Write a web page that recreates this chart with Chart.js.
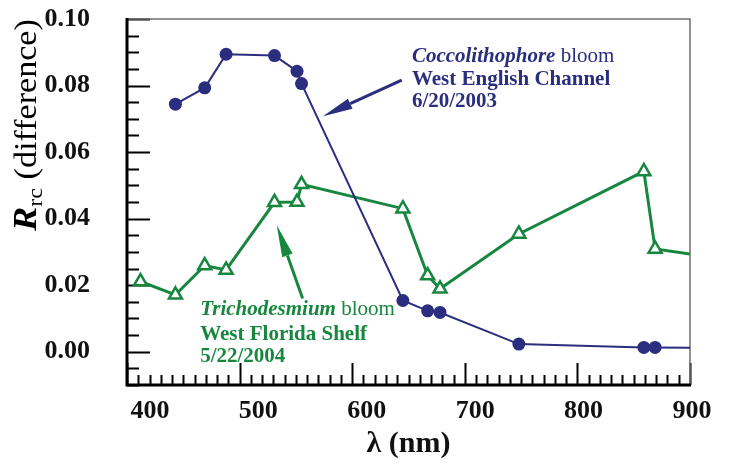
<!DOCTYPE html>
<html>
<head>
<meta charset="utf-8">
<script src="https://cdn.jsdelivr.net/npm/chart.js@4.4.1/dist/chart.umd.min.js"></script>
<style>
  html, body { margin: 0; padding: 0; background: #fff; }
  #wrap { width: 736px; height: 466px; }
</style>
</head>
<body>
<div id="wrap"><canvas id="chart" width="736" height="466"></canvas></div>
<script>
// wavelengths (nm); the last entry is where the lines leave the frame
const lambda = [412, 443, 469, 488, 531, 551, 555, 645, 667, 678, 748, 859, 869, 900];
const coccolith = [null, 0.0744, 0.0793, 0.0894, 0.0890, 0.0843, 0.0806, 0.0154, 0.0123, 0.0118, 0.0023, 0.0013, 0.0013, 0.0012];
const tricho = [0.0211, 0.0171, 0.0259, 0.0246, 0.0449, 0.0450, 0.0503, 0.0430, 0.0229, 0.0189, 0.0354, 0.0542, 0.0309, 0.0294];
const xTicks = [400, 500, 600, 700, 800, 900];
const yTicks = [0.00, 0.02, 0.04, 0.06, 0.08, 0.10];

const BLUE = '#2b2e7e';
const GREEN = '#17873f';
const SERIF = '"Liberation Serif", "Times New Roman", serif';

function pts(ys) {
    return lambda.map((x, i) => ({ x: x, y: ys[i] }));
}
const lastHidden = r => ctx => ctx.dataIndex === lambda.length - 1 ? 0 : r;

function drawArrow(ctx, x0, y0, x1, y1, color, lw, headLen, headHalf) {
    const a = Math.atan2(y1 - y0, x1 - x0);
    const bx = x1 - Math.cos(a) * headLen, by = y1 - Math.sin(a) * headLen;
    ctx.strokeStyle = color;
    ctx.fillStyle = color;
    ctx.lineWidth = lw;
    ctx.beginPath();
    ctx.moveTo(x0, y0);
    ctx.lineTo(bx, by);
    ctx.stroke();
    ctx.beginPath();
    ctx.moveTo(x1, y1);
    ctx.lineTo(bx + Math.sin(a) * headHalf, by - Math.cos(a) * headHalf);
    ctx.lineTo(bx - Math.sin(a) * headHalf, by + Math.cos(a) * headHalf);
    ctx.closePath();
    ctx.fill();
}

function drawRuns(ctx, x, y, runs) {
    runs.forEach(r => {
        ctx.font = r.font;
        ctx.fillText(r.text, x, y + (r.dy || 0));
        x += ctx.measureText(r.text).width;
    });
}

// inward ticks, frame, y title and the two labelled arrows
const framePlugin = {
    id: 'framePlugin',
    beforeDatasetsDraw(chart) {
        const { ctx, chartArea: a, scales: { x, y } } = chart;
        ctx.save();
        ctx.strokeStyle = '#000';
        ctx.lineWidth = 2;
        for (let v = 400; v <= 900; v += 10) {
            const px = Math.round(x.getPixelForValue(v)) + 0.5;
            const len = v % 100 === 0 ? 22 : 10;
            ctx.beginPath();
            ctx.moveTo(px, a.bottom);
            ctx.lineTo(px, a.bottom - len);
            ctx.stroke();
        }
        for (let k = -2; k <= 20; k++) {
            const py = Math.round(y.getPixelForValue(k * 0.005)) + 0.5;
            const len = k % 4 === 0 ? 23 : 12;
            ctx.beginPath();
            ctx.moveTo(a.left, py);
            ctx.lineTo(a.left + len, py);
            ctx.stroke();
        }
        ctx.strokeStyle = '#6e6e6e';
        ctx.lineWidth = 1.5;
        ctx.beginPath();
        ctx.moveTo(a.left, a.top);
        ctx.lineTo(a.right, a.top);
        ctx.lineTo(a.right, a.bottom);
        ctx.stroke();
        ctx.strokeStyle = '#000';
        ctx.lineWidth = 3;
        ctx.beginPath();
        ctx.moveTo(a.left, a.top - 1);
        ctx.lineTo(a.left, a.bottom);
        ctx.lineTo(a.right + 1, a.bottom);
        ctx.stroke();
        ctx.restore();
    },
    afterDraw(chart) {
        const { ctx, scales: { x, y } } = chart;
        ctx.save();
        ctx.translate(36, 231);
        ctx.rotate(-Math.PI / 2);
        ctx.scale(1.1, 1);
        ctx.fillStyle = '#000';
        ctx.textBaseline = 'alphabetic';
        drawRuns(ctx, 0, 0, [
            { text: 'R', font: 'italic bold 33px ' + SERIF },
            { text: 'rc', font: '22px ' + SERIF, dy: 6 },
            { text: ' (difference)', font: '31px ' + SERIF }
        ]);
        ctx.restore();

        ctx.save();
        drawArrow(ctx, x.getPixelForValue(644), y.getPixelForValue(0.0816),
            x.getPixelForValue(574), y.getPixelForValue(0.0708), BLUE, 3, 30, 5.5);
        drawArrow(ctx, x.getPixelForValue(556), y.getPixelForValue(0.0160),
            x.getPixelForValue(533), y.getPixelForValue(0.0380), GREEN, 3, 32, 5.5);

        ctx.textBaseline = 'alphabetic';
        ctx.fillStyle = BLUE;
        let tx = x.getPixelForValue(653);
        drawRuns(ctx, tx, 62, [
            { text: 'Coccolithophore', font: 'italic bold 21px ' + SERIF },
            { text: ' bloom', font: '21px ' + SERIF }
        ]);
        drawRuns(ctx, tx, 85, [{ text: 'West English Channel', font: 'bold 21px ' + SERIF }]);
        drawRuns(ctx, tx, 107, [{ text: '6/20/2003', font: 'bold 21px ' + SERIF }]);

        ctx.fillStyle = GREEN;
        tx = x.getPixelForValue(465);
        drawRuns(ctx, tx, 315, [
            { text: 'Trichodesmium', font: 'italic bold 21px ' + SERIF },
            { text: ' bloom', font: '21px ' + SERIF }
        ]);
        drawRuns(ctx, tx, 340, [{ text: 'West Florida Shelf', font: 'bold 21px ' + SERIF }]);
        drawRuns(ctx, tx, 362, [{ text: '5/22/2004', font: 'bold 21px ' + SERIF }]);
        ctx.restore();
    }
};

new Chart(document.getElementById('chart'), {
    type: 'scatter',
    data: {
        datasets: [
            {
                label: 'Coccolithophore bloom',
                data: pts(coccolith),
                showLine: true,
                borderColor: BLUE,
                backgroundColor: BLUE,
                borderWidth: 2,
                pointStyle: 'circle',
                pointRadius: lastHidden(6.5),
                pointBorderWidth: 0,
                pointBackgroundColor: BLUE,
                tension: 0
            },
            {
                label: 'Trichodesmium bloom',
                data: pts(tricho),
                showLine: true,
                borderColor: GREEN,
                backgroundColor: '#fff',
                borderWidth: 3,
                pointStyle: 'triangle',
                pointRadius: lastHidden(7.5),
                pointBorderWidth: 2.5,
                pointBorderColor: GREEN,
                pointBackgroundColor: '#fff',
                tension: 0
            }
        ]
    },
    options: {
        responsive: false,
        animation: false,
        layout: { padding: { top: 19, right: 46, left: 0, bottom: 0 } },
        plugins: {
            legend: { display: false },
            tooltip: { enabled: false }
        },
        scales: {
            // data axis (its labels are printed by the xl axis, slightly offset as in the original figure)
            x: {
                type: 'linear',
                min: 400,
                max: 900,
                display: false
            },
            xl: {
                type: 'linear',
                position: 'bottom',
                min: 378.8,
                max: 898.2,
                afterFit: s => { s.height = 81; s.paddingLeft = 0; s.paddingRight = 0; },
                afterBuildTicks: s => { s.ticks = xTicks.map(v => ({ value: v })); },
                grid: { display: false, drawTicks: false },
                border: { display: false },
                ticks: {
                    color: '#111',
                    padding: 11,
                    maxRotation: 0,
                    autoSkip: false,
                    font: { family: SERIF, size: 26, weight: 'bold' }
                },
                title: {
                    display: true,
                    text: 'λ (nm)',
                    color: '#111',
                    padding: { top: 0, bottom: 4 },
                    font: { family: SERIF, size: 30, weight: 'bold' }
                }
            },
            y: {
                type: 'linear',
                min: -0.01,
                max: 0.10,
                afterFit: s => { s.width = 127; s.paddingTop = 0; s.paddingBottom = 0; },
                afterBuildTicks: s => { s.ticks = yTicks.map(v => ({ value: v })); },
                grid: { display: false, drawTicks: false },
                border: { display: false },
                ticks: {
                    color: '#111',
                    padding: 37,
                    callback: v => v.toFixed(2),
                    font: { family: SERIF, size: 26, weight: 'bold' }
                }
            }
        }
    },
    plugins: [framePlugin]
});
</script>
</body>
</html>
